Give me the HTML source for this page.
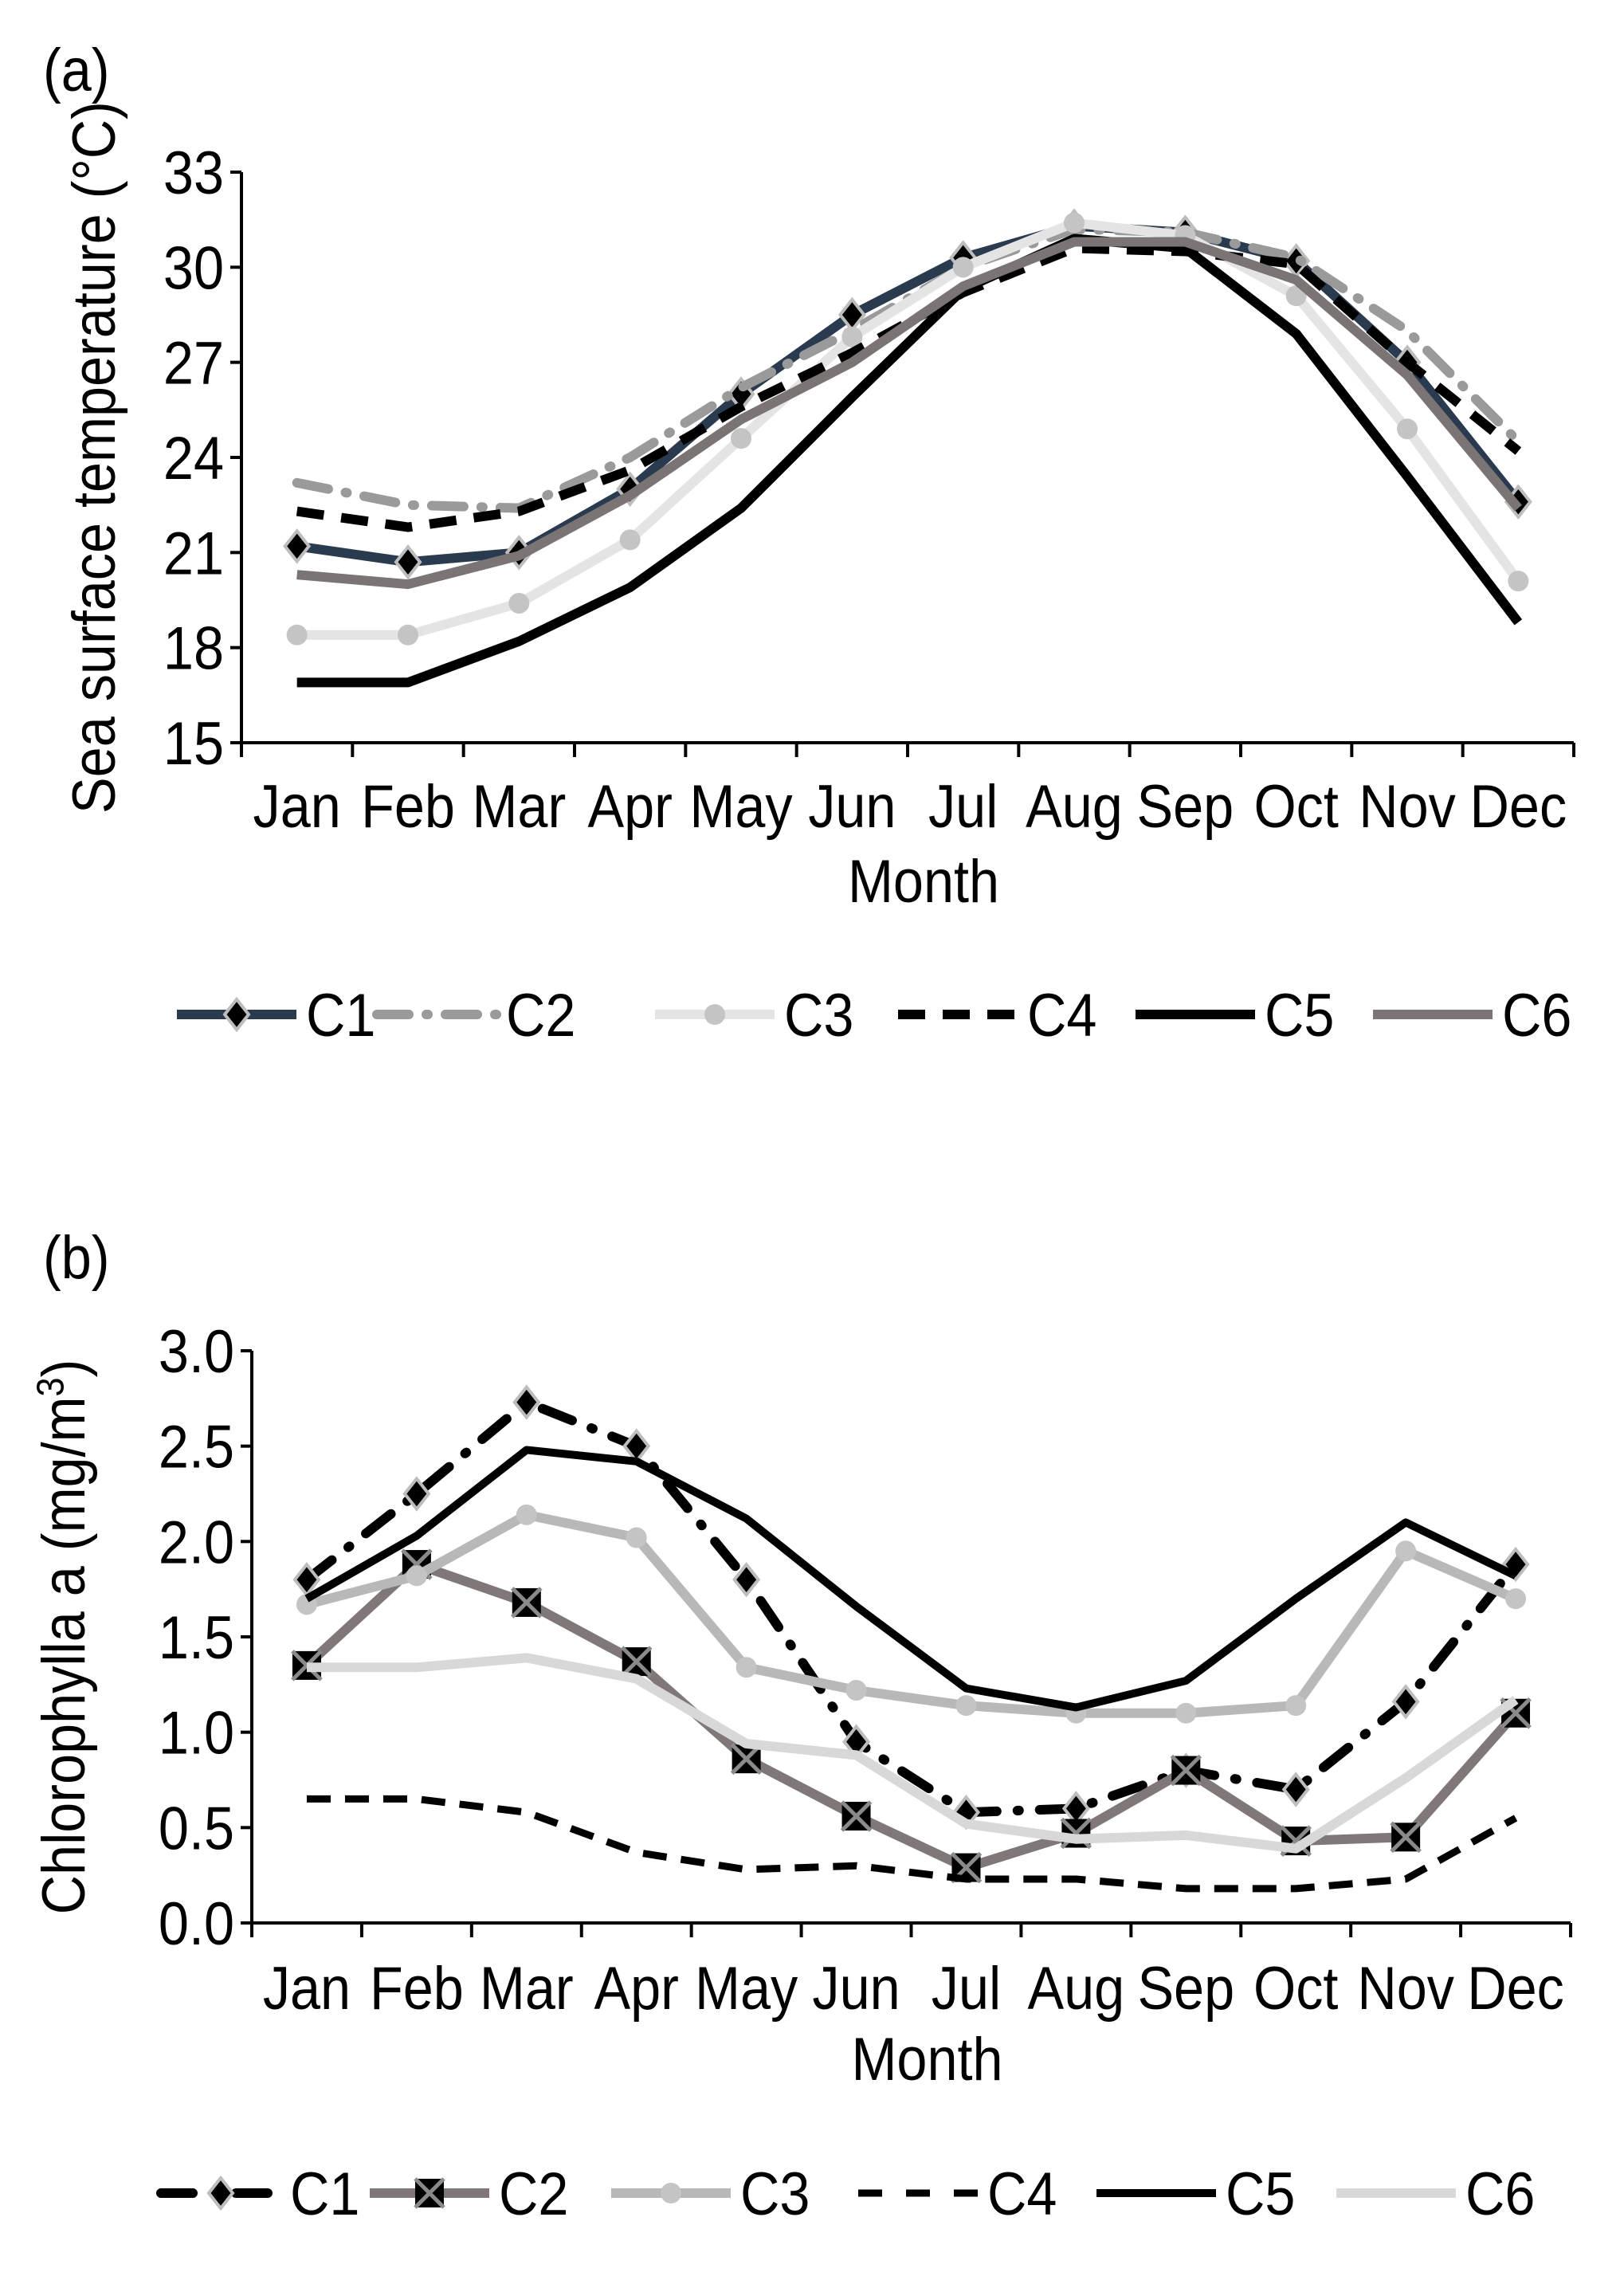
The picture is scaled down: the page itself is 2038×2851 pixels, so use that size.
<!DOCTYPE html>
<html><head><meta charset="utf-8"><style>
html,body{margin:0;padding:0;background:#fff}
svg text{font-family:"Liberation Sans",Arial,sans-serif;fill:#000}
</style></head><body>
<svg id="fig" width="2038" height="2846" viewBox="0 0 2038 2846" xmlns="http://www.w3.org/2000/svg"></svg>
<script>
const months=["Jan","Feb","Mar","Apr","May","Jun","Jul","Aug","Sep","Oct","Nov","Dec"];
const sstTicks=[15,18,21,24,27,30,33];
const sstC1=[21.2,20.7,21.0,23.0,26.0,28.5,30.3,31.3,31.1,30.2,27.0,22.6];
const sstC2=[23.2,22.5,22.4,24.0,26.2,28.0,30.0,31.2,31.1,30.3,28.0,24.5];
const sstC3=[18.4,18.4,19.4,21.4,24.6,27.8,30.0,31.4,31.0,29.1,24.9,20.1];
const sstC4=[22.3,21.8,22.3,23.6,25.6,27.3,29.2,30.6,30.5,30.1,27.0,24.2];
const sstC5=[16.9,16.9,18.2,19.9,22.4,25.9,29.3,30.9,30.6,27.9,23.4,18.8];
const sstC6=[20.3,20.0,20.9,22.8,25.2,27.0,29.4,30.8,30.8,29.6,26.6,22.4];
const chlTicks=["0.0","0.5","1.0","1.5","2.0","2.5","3.0"];
const chlC1=[1.8,2.25,2.73,2.5,1.8,0.95,0.58,0.6,0.8,0.7,1.16,1.88];
const chlC2=[1.35,1.88,1.68,1.37,0.86,0.56,0.29,0.47,0.8,0.43,0.45,1.1];
const chlC3=[1.67,1.82,2.14,2.02,1.34,1.22,1.14,1.1,1.1,1.14,1.95,1.7];
const chlC4=[0.65,0.65,0.58,0.37,0.28,0.3,0.23,0.23,0.18,0.18,0.23,0.55];
const chlC5=[1.7,2.03,2.48,2.42,2.12,1.66,1.23,1.13,1.27,1.7,2.1,1.82];
const chlC6=[1.34,1.34,1.39,1.28,0.94,0.88,0.52,0.44,0.46,0.39,0.76,1.17];

const NS="http://www.w3.org/2000/svg";
const svg=document.getElementById('fig');
const FS=76, SX=0.9;
function el(tag,attrs,parent){const e=document.createElementNS(NS,tag);for(const k in attrs)e.setAttribute(k,attrs[k]);(parent||svg).appendChild(e);return e;}
function txt(s,x,y,size,anchor,parent){const t=el('text',{x:0,y:0,'font-size':size,'text-anchor':anchor||'start',transform:`translate(${x},${y}) scale(${SX},1)`},parent);t.textContent=s;return t;}

function marker(g,type,x,y){
  if(type==='diamond'){const m=el('path',{d:`M${x} ${y-19}L${x+15} ${y}L${x} ${y+19}L${x-15} ${y}Z`,fill:'#000',stroke:'#bdbdbd','stroke-width':4},g);
    }
  else if(type==='circle'){const m=el('circle',{cx:x,cy:y,r:13,fill:'#c4c4c4'},g);
    }
  else if(type==='xbox'){const m=el('g',{},g);
    
    el('rect',{x:x-18,y:y-18,width:36,height:36,fill:'#000'},m);
    el('path',{d:`M${x-18} ${y-18}L${x+18} ${y+18}M${x+18} ${y-18}L${x-18} ${y+18}`,stroke:'#8a8a8a','stroke-width':5},m);}
}

function chart(cfg){
  const g=el('g',{});
  
  
  const {L,R,T,B,min,max}=cfg;
  const cw=(R-L)/12;
  const xs=i=>L+cw*(i+0.5);
  const ys=v=>B-(v-min)/(max-min)*(B-T);
  const ax=el('path',{d:`M${L} ${T}L${L} ${B}L${R} ${B}`,stroke:'#000','stroke-width':4,fill:'none'},g);
  
  
  cfg.ticks.forEach(tv=>{const v=parseFloat(tv);const y=ys(v);
    el('line',{x1:L-14,x2:L,y1:y,y2:y,stroke:'#000','stroke-width':4},g);
    const t=txt(String(tv),L-22,y+27,FS,'end',g);
    
    
  });
  for(let i=0;i<=12;i++){el('line',{x1:L+cw*i,x2:L+cw*i,y1:B,y2:B+18,stroke:'#000','stroke-width':4},g);}
  months.forEach((m,i)=>{const t=txt(m,xs(i),cfg.monthY,FS,'middle',g);
    
    });
  const xt=txt('Month',(L+R)/2+20,cfg.titleY,FS,'middle',g);
  
  
  const yt=el('text',{x:0,y:0,'font-size':FS,'text-anchor':'middle',transform:`translate(${cfg.yTitleX},${(T+B)/2}) rotate(-90) scale(${SX},1)`},g);
  
  
  yt.innerHTML=cfg.yTitle;
  const pl=txt(cfg.panel,54,cfg.panelY,FS,'start',g);
  
  
  cfg.series.forEach(s=>{
    const sg=el('g',{},g);
    
    
    const pts=s.data.map((v,i)=>[xs(i),ys(v)]);
    const a={points:pts.map(p=>p.join(',')).join(' '),fill:'none',stroke:s.color,'stroke-width':s.w||12,'stroke-linejoin':'round','stroke-linecap':s.cap||'butt'};
    if(s.dash)a['stroke-dasharray']=s.dash;
    el('polyline',a,sg);
    if(s.marker)pts.forEach(p=>marker(sg,s.marker,p[0],p[1]));
  });
  cfg.series.forEach((s,i)=>{
    const lg=el('g',{},g);
    
    
    const lx=cfg.legX[i];const ly=cfg.legY;
    const a={x1:lx,x2:lx+150,y1:ly,y2:ly,stroke:s.color,'stroke-width':s.w||12,'stroke-linecap':s.cap||'butt'};
    if(s.dash)a['stroke-dasharray']=s.legDash||s.dash;
    el('line',a,lg);
    if(s.marker)marker(lg,s.marker,lx+75,ly);
    txt(s.label,lx+162,ly+27,FS,'start',lg);
  });
}

chart({name:'sst-chart',L:303,R:1975,T:216,B:932,min:15,max:33,ticks:sstTicks,
  monthY:1038,titleY:1132,yTitleX:144,panel:'(a)',panelY:114,
  yTitle:'Sea surface temperature (°C)',legY:1273,
  legX:[222,473,822,1127,1425,1723],
  series:[
    {label:'C1',data:sstC1,color:'#2b3b4f',marker:'diamond'},
    {label:'C2',data:sstC2,color:'#9a9a9a',dash:'40 22 2 22',cap:'round'},
    {label:'C3',data:sstC3,color:'#e4e4e4',marker:'circle'},
    {label:'C4',data:sstC4,color:'#000',dash:'34 22'},
    {label:'C5',data:sstC5,color:'#000'},
    {label:'C6',data:sstC6,color:'#7a7475'}
  ]});
chart({name:'chlorophyll-chart',L:316,R:1971,T:1695,B:2413,min:0,max:3,ticks:chlTicks,
  monthY:2521,titleY:2610,yTitleX:106,panel:'(b)',panelY:1604,
  yTitle:'Chlorophylla a (mg/m<tspan baseline-shift="super" font-size="48">3</tspan>)',legY:2752,
  legX:[202,464,767,1077,1376,1677],
  series:[
    {label:'C1',data:chlC1,color:'#000',dash:'40 26 2 26',cap:'round',marker:'diamond'},
    {label:'C2',data:chlC2,color:'#7f7778',marker:'xbox'},
    {label:'C3',data:chlC3,color:'#b8b8b8',marker:'circle'},
    {label:'C4',data:chlC4,color:'#000',dash:'30 18',legDash:'30 30',w:9},
    {label:'C5',data:chlC5,color:'#000',w:10},
    {label:'C6',data:chlC6,color:'#d8d8d8'}
  ]});
</script>
</body></html>
